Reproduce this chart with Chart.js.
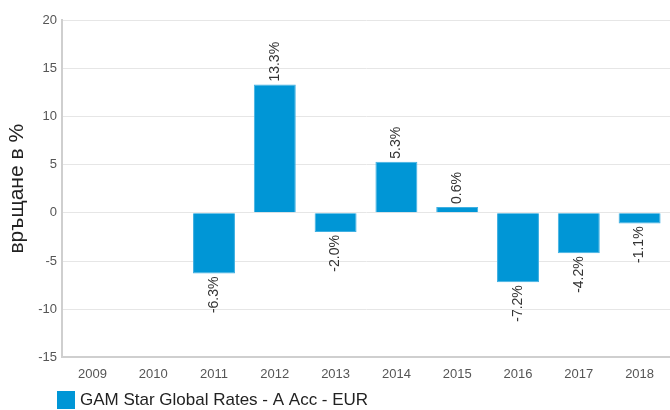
<!DOCTYPE html>
<html>
<head>
<meta charset="utf-8">
<script src="https://cdn.jsdelivr.net/npm/chart.js@4/dist/chart.umd.min.js"></script>
<style>
html,body{margin:0;padding:0;background:#fff;}
#wrap{width:670px;height:410px;position:relative;}
</style>
</head>
<body>
<div id="wrap"><canvas id="c" width="670" height="410"></canvas></div>
<script>
const categories = ['2009','2010','2011','2012','2013','2014','2015','2016','2017','2018'];
const returns = [null, null, -6.3, 13.3, -2.0, 5.3, 0.6, -7.2, -4.2, -1.1];
const seriesName = 'GAM Star Global Rates - A Acc - EUR';
const axisTitle = 'връщане в %';
const yMin = -15, yMax = 20, yStep = 5;

const FONT = "'Liberation Sans', Arial, sans-serif";
const BLUE = '#0096d6';

const valueLabels = {
  id: 'valueLabels',
  afterDatasetsDraw(chart) {
    const ctx = chart.ctx;
    const meta = chart.getDatasetMeta(0);
    const ds = chart.data.datasets[0];
    ctx.save();
    ctx.font = '14px ' + FONT;
    ctx.fillStyle = '#333';
    ctx.textBaseline = 'middle';
    meta.data.forEach((bar, i) => {
      const v = ds.data[i];
      if (v === null || v === undefined) return;
      const txt = v.toFixed(1) + '%';
      ctx.save();
      if (v >= 0) {
        ctx.translate(bar.x, bar.y - 3);
        ctx.rotate(-Math.PI / 2);
        ctx.textAlign = 'left';
      } else {
        ctx.translate(bar.x, bar.y + 3);
        ctx.rotate(-Math.PI / 2);
        ctx.textAlign = 'right';
      }
      ctx.fillText(txt, 0, 0);
      ctx.restore();
    });
    ctx.restore();
  }
};

const customLegend = {
  id: 'customLegend',
  afterDraw(chart) {
    const ctx = chart.ctx;
    const ds = chart.data.datasets[0];
    ctx.save();
    ctx.fillStyle = ds.backgroundColor;
    ctx.fillRect(57, 391, 18, 18);
    ctx.font = '17px ' + FONT;
    ctx.fillStyle = '#222';
    ctx.textBaseline = 'middle';
    ctx.textAlign = 'left';
    ctx.fillText(ds.label, 80, 400);
    ctx.restore();
  }
};

new Chart(document.getElementById('c'), {
  type: 'bar',
  data: {
    labels: categories,
    datasets: [{
      label: seriesName,
      data: returns,
      backgroundColor: BLUE,
      borderColor: '#40b0e2',
      borderWidth: 1,
      barPercentage: 0.69,
      categoryPercentage: 1.0
    }]
  },
  options: {
    responsive: false,
    animation: false,
    devicePixelRatio: 1,
    layout: { padding: { top: 20, right: 0, bottom: 19, left: 0 } },
    plugins: {
      legend: { display: false },
      tooltip: { enabled: false }
    },
    scales: {
      x: {
        grid: { display: false, drawTicks: false },
        border: { display: true, color: '#cfcfcf', width: 2 },
        ticks: { color: '#555', font: { family: FONT, size: 13 }, padding: 9, maxRotation: 0 }
      },
      y: {
        min: yMin, max: yMax,
        afterFit(scale) { scale.width = 62; },
        ticks: { stepSize: yStep, color: '#555', font: { family: FONT, size: 13 }, padding: 5 },
        grid: { color: '#e6e6e6', drawTicks: false, lineWidth: 1 },
        border: { display: true, color: '#cfcfcf', width: 2 },
        title: { display: true, text: axisTitle, color: '#222', font: { family: FONT, size: 21 }, padding: { top: 5, bottom: 0 } }
      }
    }
  },
  plugins: [valueLabels, customLegend]
});
</script>
</body>
</html>
